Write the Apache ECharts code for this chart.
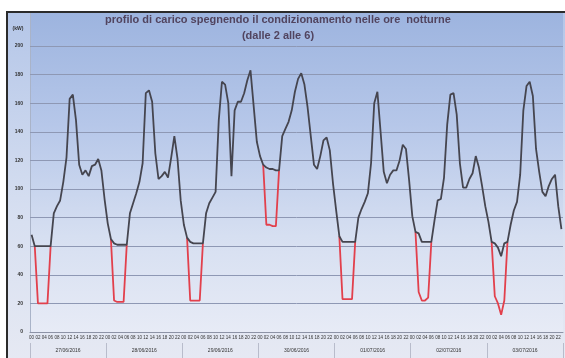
<!DOCTYPE html>
<html>
<head>
<meta charset="utf-8">
<script src="https://cdn.jsdelivr.net/npm/echarts@6/dist/echarts.min.js"></script>
<style>
  html, body { margin: 0; padding: 0; background: #ffffff; }
  #chart { width: 565px; height: 358px; }
</style>
</head>
<body>
<div id="chart"></div>
<script>
// Giorni e ore del periodo rappresentato
const giorni = ['27/06/2016', '28/06/2016', '29/06/2016', '30/06/2016', '01/07/2016', '02/07/2016', '03/07/2016'];
const ore = ['00','01','02','03','04','05','06','07','08','09','10','11','12','13','14','15','16','17','18','19','20','21','22','23'];

// Carico orario (kW) con condizionamento sempre acceso, un array per giorno
const caricoGiorno1 = [68, 60, 60, 60, 60, 60, 60, 83, 88, 92, 105, 122, 163, 166, 148, 117, 110, 113, 109, 116, 117, 121, 113, 93];
const caricoGiorno2 = [76, 65, 62, 61, 61, 61, 61, 83, 90, 97, 105, 118, 167, 169, 161, 125, 107, 109, 112, 108, 122, 137, 121, 92];
const caricoGiorno3 = [75, 66, 63, 62, 62, 62, 62, 83, 90, 94, 98, 148, 175, 173, 160, 109, 155, 161, 161, 167, 176, 183, 158, 133];
const caricoGiorno4 = [123, 117, 115, 114, 114, 113, 113, 137, 142, 147, 155, 168, 177, 181, 173, 157, 137, 117, 114, 123, 134, 136, 127, 104];
const caricoGiorno5 = [85, 67, 63, 63, 63, 63, 63, 80, 86, 91, 97, 118, 160, 168, 140, 112, 104, 110, 113, 113, 120, 131, 128, 106];
const caricoGiorno6 = [81, 70, 69, 63, 63, 63, 63, 78, 92, 93, 108, 145, 166, 167, 152, 118, 101, 101, 107, 111, 123, 115, 102, 88];
const caricoGiorno7 = [77, 63, 62, 59, 53, 62, 63, 75, 85, 91, 110, 155, 172, 175, 165, 128, 112, 98, 95, 102, 107, 110, 88, 72];

// Carico (kW) con condizionamento spento dalle 2 alle 6: ore 01..06 di ogni giorno
const oreNotte = [1, 2, 3, 4, 5, 6];
const spentoGiorno1 = [60, 20, 20, 20, 20, 60];
const spentoGiorno2 = [65, 22, 21, 21, 21, 61];
const spentoGiorno3 = [66, 22, 22, 22, 22, 62];
const spentoGiorno4 = [117, 75, 75, 74, 74, 113];
const spentoGiorno5 = [67, 23, 23, 23, 23, 63];
const spentoGiorno6 = [70, 28, 22, 22, 24, 63];
const spentoGiorno7 = [63, 25, 20, 12, 22, 63];

// Tacche dell'asse verticale
const tacchePotenza = [0, 20, 40, 60, 80, 100, 120, 140, 160, 180, 200];

const caricoGiorni = [caricoGiorno1, caricoGiorno2, caricoGiorno3, caricoGiorno4, caricoGiorno5, caricoGiorno6, caricoGiorno7];
const spentoGiorni = [spentoGiorno1, spentoGiorno2, spentoGiorno3, spentoGiorno4, spentoGiorno5, spentoGiorno6, spentoGiorno7];

const categorie = [];
const carico = [];
const spento = [];
giorni.forEach((g, d) => {
  ore.forEach((o, h) => {
    categorie.push(o);
    carico.push(caricoGiorni[d][h]);
    const k = oreNotte.indexOf(h);
    spento.push(k >= 0 ? spentoGiorni[d][k] : null);
  });
});

const chart = echarts.init(document.getElementById('chart'), null, { renderer: 'canvas' });

const fontTitolo = 'bold 11px "Liberation Sans", Arial, sans-serif';

const option = {
  animation: false,
  backgroundColor: '#ffffff',
  grid: { left: 30, right: 2, top: 46, bottom: 26 },
  graphic: [
    {
      type: 'rect', z: -100,
      shape: { x: 7, y: 12, width: 560, height: 350 },
      style: {
        fill: new echarts.graphic.LinearGradient(0, 0, 0, 1, [
          { offset: 0, color: '#b4c6e8' },
          { offset: 0.6, color: '#d8e0f1' },
          { offset: 1, color: '#e6e9f3' }
        ]),
        stroke: '#2b2b2b', lineWidth: 2
      }
    },
    {
      type: 'rect', z: -99,
      shape: { x: 30, y: 13, width: 533, height: 319 },
      style: {
        fill: new echarts.graphic.LinearGradient(0, 0, 0, 1, [
          { offset: 0, color: '#9db4df' },
          { offset: 0.35, color: '#b6c7e9' },
          { offset: 0.7, color: '#d6dff1' },
          { offset: 1, color: '#e7ebf6' }
        ])
      }
    },
    {
      type: 'line', z: -98,
      shape: { x1: 30.5, y1: 13, x2: 30.5, y2: 332 },
      style: { stroke: '#a9b3c8', lineWidth: 1 }
    },
    {
      type: 'text', z: 100, x: 278, y: 20,
      style: {
        text: 'profilo di carico spegnendo il condizionamento nelle ore  notturne',
        fill: '#51445f', font: fontTitolo,
        textAlign: 'center', textVerticalAlign: 'middle'
      }
    },
    {
      type: 'text', z: 100, x: 278, y: 36,
      style: {
        text: '(dalle 2 alle 6)',
        fill: '#51445f', font: fontTitolo,
        textAlign: 'center', textVerticalAlign: 'middle'
      }
    },
    {
      type: 'text', z: 100, x: 18, y: 29,
      style: {
        text: '(kW)', fill: '#333333', font: 'bold 5px "Liberation Sans", Arial, sans-serif',
        textAlign: 'center', textVerticalAlign: 'middle'
      }
    }
  ],
  xAxis: [
    {
      type: 'category',
      data: categorie,
      boundaryGap: true,
      axisLine: { show: true, lineStyle: { color: '#8d93a6', width: 1 } },
      axisTick: { show: false },
      axisLabel: { interval: 1, fontSize: 4.5, color: '#333333', margin: 3, fontFamily: 'Liberation Sans' },
      splitLine: { show: false }
    },
    {
      type: 'category',
      data: giorni,
      position: 'bottom',
      offset: 11,
      boundaryGap: true,
      axisLine: { show: false },
      axisTick: { show: true, inside: false, length: 16, lineStyle: { color: '#b8bccb', width: 1 } },
      axisLabel: { fontSize: 5, color: '#333333', margin: 5, fontFamily: 'Liberation Sans' },
      splitLine: { show: false }
    }
  ],
  yAxis: {
    type: 'value',
    min: tacchePotenza[0],
    max: tacchePotenza[tacchePotenza.length - 1],
    interval: tacchePotenza[1] - tacchePotenza[0],
    axisLine: { show: false },
    axisTick: { show: false },
    axisLabel: { fontSize: 5, fontWeight: 'bold', color: '#333333', margin: 7, fontFamily: 'Liberation Sans' },
    splitLine: { show: true, lineStyle: { color: '#8e98b4', width: 1 } }
  },
  series: [
    {
      name: 'condizionamento spento',
      type: 'line',
      xAxisIndex: 0,
      data: spento,
      connectNulls: false,
      symbol: 'none',
      lineStyle: { color: '#e2404c', width: 1.8 },
      z: 3
    },
    {
      name: 'carico',
      type: 'line',
      xAxisIndex: 0,
      data: carico,
      symbol: 'none',
      lineStyle: { color: '#45454f', width: 1.8 },
      z: 4
    }
  ]
};

chart.setOption(option);
</script>
</body>
</html>
